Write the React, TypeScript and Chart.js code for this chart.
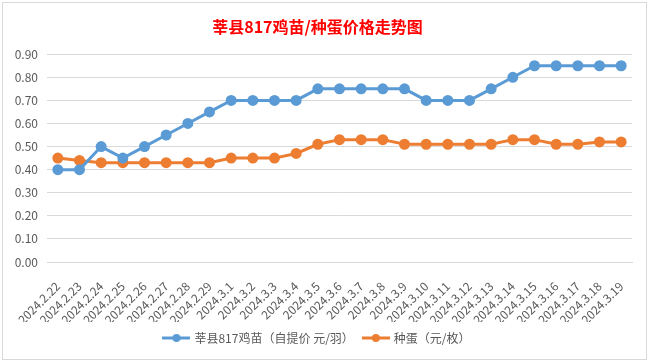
import React, { useEffect, useRef } from "react";
import { Chart, registerables } from "chart.js";

Chart.register(...registerables);

const categories = [
  "2024.2.22", "2024.2.23", "2024.2.24", "2024.2.25", "2024.2.26", "2024.2.27", "2024.2.28", "2024.2.29",
  "2024.3.1", "2024.3.2", "2024.3.3", "2024.3.4", "2024.3.5", "2024.3.6", "2024.3.7", "2024.3.8",
  "2024.3.9", "2024.3.10", "2024.3.11", "2024.3.12", "2024.3.13", "2024.3.14", "2024.3.15", "2024.3.16",
  "2024.3.17", "2024.3.18", "2024.3.19",
];

const chickPrice = [
  0.40, 0.40, 0.50, 0.45, 0.50, 0.55, 0.60, 0.65,
  0.70, 0.70, 0.70, 0.70, 0.75, 0.75, 0.75, 0.75,
  0.75, 0.70, 0.70, 0.70, 0.75, 0.80, 0.85, 0.85,
  0.85, 0.85, 0.85,
];

const eggPrice = [
  0.45, 0.44, 0.43, 0.43, 0.43, 0.43, 0.43, 0.43,
  0.45, 0.45, 0.45, 0.47, 0.51, 0.53, 0.53, 0.53,
  0.51, 0.51, 0.51, 0.51, 0.51, 0.53, 0.53, 0.51,
  0.51, 0.52, 0.52,
];

const seriesNames = ["莘县817鸡苗（自提价 元/羽）", "种蛋（元/枚）"];
const titleText = "莘县817鸡苗/种蛋价格走势图";

const BLUE = "#5B9BD5";
const ORANGE = "#ED7D31";
const FONT = "'Noto Sans CJK SC', 'Noto Sans', sans-serif";

function legendMarker(color: string): HTMLCanvasElement {
  const c = document.createElement("canvas");
  c.width = 28;
  c.height = 10;
  const ctx = c.getContext("2d")!;
  ctx.strokeStyle = color;
  ctx.lineWidth = 3;
  ctx.beginPath();
  ctx.moveTo(0, 5);
  ctx.lineTo(28, 5);
  ctx.stroke();
  ctx.fillStyle = color;
  ctx.beginPath();
  ctx.arc(14, 5, 4, 0, Math.PI * 2);
  ctx.fill();
  return c;
}

export default function App() {
  const ref = useRef<HTMLCanvasElement | null>(null);

  useEffect(() => {
    if (!ref.current) return;
    const markers = [legendMarker(BLUE), legendMarker(ORANGE)];
    const chart = new Chart(ref.current, {
      type: "line",
      data: {
        labels: categories,
        datasets: [
          {
            label: seriesNames[0],
            data: chickPrice,
            borderColor: BLUE,
            backgroundColor: BLUE,
            borderWidth: 3,
            pointRadius: 4,
            pointBackgroundColor: BLUE,
            pointBorderColor: BLUE,
            tension: 0,
          },
          {
            label: seriesNames[1],
            data: eggPrice,
            borderColor: ORANGE,
            backgroundColor: ORANGE,
            borderWidth: 3,
            pointRadius: 4,
            pointBackgroundColor: ORANGE,
            pointBorderColor: ORANGE,
            tension: 0,
          },
        ],
      },
      options: {
        animation: false,
        responsive: false,
        maintainAspectRatio: false,
        layout: { padding: { left: 0, right: 13, top: 0, bottom: 4 } },
        plugins: {
          title: {
            display: true,
            text: titleText,
            color: "#FF0000",
            font: { family: FONT, size: 16, weight: "bold" },
            padding: { top: 14, bottom: 18 },
          },
          legend: {
            position: "bottom",
            labels: {
              color: "#595959",
              font: { family: FONT, size: 12 },
              usePointStyle: true,
              pointStyleWidth: 24,
              padding: 10,
              generateLabels: (ch: any) =>
                ch.data.datasets.map((ds: any, i: number) => ({
                  text: ds.label,
                  fillStyle: ds.borderColor,
                  strokeStyle: ds.borderColor,
                  lineWidth: 0,
                  pointStyle: markers[i],
                  hidden: false,
                  datasetIndex: i,
                  fontColor: "#595959",
                })),
            },
          },
          tooltip: { enabled: false },
        },
        scales: {
          x: {
            offset: true,
            grid: { display: false },
            border: { display: true, color: "#D9D9D9" },
            ticks: {
              color: "#595959",
              font: { family: FONT, size: 12 },
              maxRotation: 45,
              minRotation: 45,
              autoSkip: false,
              padding: 9,
            },
            afterFit: (scale: any) => {
              scale.height = 60;
            },
          },
          y: {
            min: 0,
            max: 0.9,
            grid: { color: "#D9D9D9", drawTicks: false },
            border: { display: false },
            ticks: {
              stepSize: 0.1,
              color: "#595959",
              font: { family: FONT, size: 12 },
              padding: 9,
              callback: (v: any) => Number(v).toFixed(2),
            },
            afterFit: (scale: any) => {
              scale.width = 44;
            },
          },
        },
      },
    });
    return () => chart.destroy();
  }, []);

  return (
    <div style={{ position: "fixed", left: 0, top: 0, width: 649, height: 363, background: "#FFFFFF" }}>
      <div
        style={{
          position: "absolute",
          left: 2,
          top: 2,
          width: 643,
          height: 356,
          border: "1px solid #D9D9D9",
          background: "#FFFFFF",
        }}
      >
        <canvas ref={ref} width={642} height={355} style={{ display: "block" }} />
      </div>
    </div>
  );
}
